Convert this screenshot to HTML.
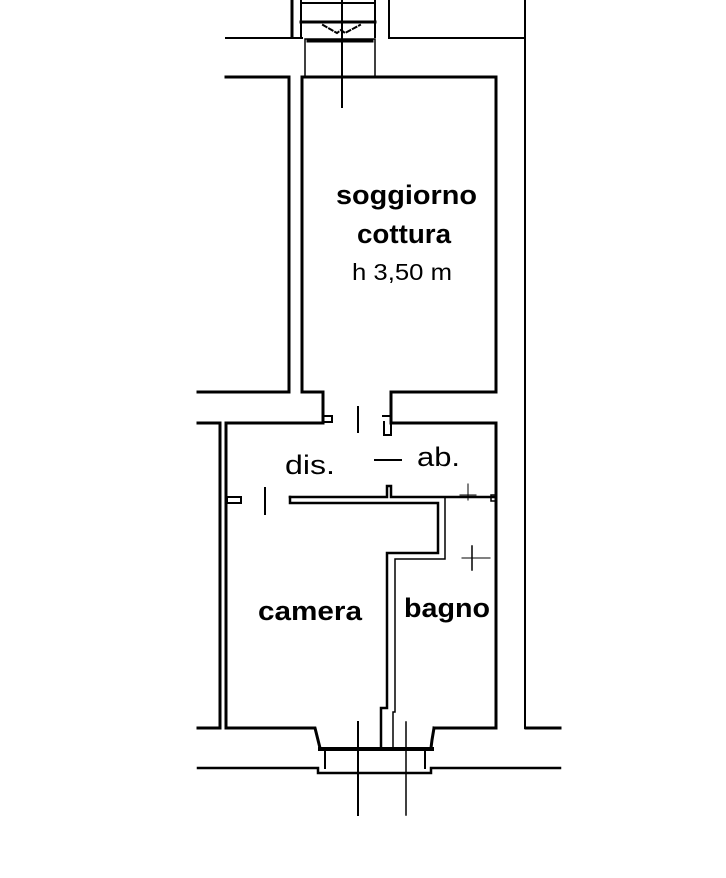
<!DOCTYPE html>
<html><head><style>html,body{margin:0;padding:0;background:#fff;width:726px;height:878px;overflow:hidden}</style></head>
<body>
<svg width="726" height="878" viewBox="0 0 726 878" xmlns="http://www.w3.org/2000/svg">
<g fill="none" stroke="#000" stroke-width="3" stroke-linecap="square">
<line x1="292" y1="0" x2="292" y2="37"/>
<line x1="301" y1="0" x2="301" y2="37" stroke-width="2"/>
<line x1="375" y1="0" x2="375" y2="37" stroke-width="2"/>
<line x1="301" y1="3" x2="375" y2="3" stroke-width="2"/>
<line x1="301" y1="22" x2="375" y2="22"/>
<polyline points="323,25 337,33 341,30 345,33 360,25" stroke-width="2" stroke-dasharray="4,3"/>
<line x1="389" y1="0" x2="389" y2="38" stroke-width="2"/>
<line x1="389" y1="38" x2="525" y2="38" stroke-width="2"/>
<line x1="226" y1="38" x2="302" y2="38" stroke-width="2"/>
<line x1="525" y1="0" x2="525" y2="728" stroke-width="2"/>
<rect x="305" y="39" width="70" height="38" stroke-width="1.5"/>
<line x1="308" y1="41" x2="372" y2="41"/>
<line x1="308" y1="77" x2="372" y2="77"/>
<line x1="342" y1="0" x2="342" y2="107" stroke-width="2"/>
<polyline points="226,77 289,77 289,392 198,392"/>
<polyline points="302,77 496,77 496,392 391,392 391,422"/>
<polyline points="302,77 302,392 323,392 323,422"/>
<rect x="323" y="416" width="9" height="6" stroke-width="2"/>
<polyline points="383,416 391,416 391,435 384,435 384,422" stroke-width="2"/>
<line x1="358" y1="407" x2="358" y2="432" stroke-width="2"/>
<line x1="198" y1="423" x2="220" y2="423"/>
<polyline points="226,728 226,423 323,423"/>
<line x1="220" y1="423" x2="220" y2="728"/>
<polyline points="391,423 496,423 496,728 434,728"/>
<line x1="198" y1="728" x2="220" y2="728"/>
<polyline points="226,728 315,728 318,740 320,748"/>
<polyline points="434,728 432,740 431,748"/>
<line x1="526" y1="728" x2="560" y2="728"/>
<rect x="227" y="497" width="14" height="6" stroke-width="2"/>
<line x1="265" y1="488" x2="265" y2="514" stroke-width="2"/>
<polyline points="290,497 290,503 438,503 438,553 387,553 387,708 381,708 381,748" stroke-width="2.5"/>
<polyline points="290,497 387,497 387,486 391,486 391,497 496,497" stroke-width="2.5"/>
<polyline points="393,748 393,712 395,712 395,559 445,559 445,497" stroke-width="1.5"/>
<rect x="491" y="495" width="5" height="6" stroke-width="1.5"/>
<line x1="375" y1="460" x2="401" y2="460" stroke-width="2"/>
<line x1="460" y1="495" x2="476" y2="495" stroke-width="1"/>
<line x1="468" y1="484" x2="468" y2="500" stroke-width="1"/>
<line x1="462" y1="558" x2="490" y2="558" stroke-width="1"/>
<line x1="472" y1="546" x2="472" y2="570" stroke-width="1.5"/>
<line x1="320" y1="749" x2="432" y2="749" stroke-width="4"/>
<polyline points="198,768 318,768 318,773 431,773 431,768 560,768" stroke-width="2.5"/>
<line x1="325" y1="749" x2="325" y2="768" stroke-width="2"/>
<line x1="425" y1="749" x2="425" y2="768" stroke-width="2"/>
<line x1="358" y1="722" x2="358" y2="815" stroke-width="2"/>
<line x1="406" y1="722" x2="406" y2="815" stroke-width="1.5"/>
</g>
<g font-family="Liberation Sans, sans-serif" fill="#000">
<text x="336" y="204" font-size="27" font-weight="bold" textLength="141" lengthAdjust="spacingAndGlyphs">soggiorno</text>
<text x="357" y="243" font-size="27" font-weight="bold" textLength="94" lengthAdjust="spacingAndGlyphs">cottura</text>
<text x="352" y="280" font-size="23" textLength="100" lengthAdjust="spacingAndGlyphs">h 3,50 m</text>
<text x="285" y="474" font-size="27" textLength="50" lengthAdjust="spacingAndGlyphs">dis.</text>
<text x="417" y="466" font-size="27" textLength="43" lengthAdjust="spacingAndGlyphs">ab.</text>
<text x="258" y="620" font-size="27" font-weight="bold" textLength="104" lengthAdjust="spacingAndGlyphs">camera</text>
<text x="404" y="617" font-size="27" font-weight="bold" textLength="86" lengthAdjust="spacingAndGlyphs">bagno</text>
</g>
</svg>
</body></html>
